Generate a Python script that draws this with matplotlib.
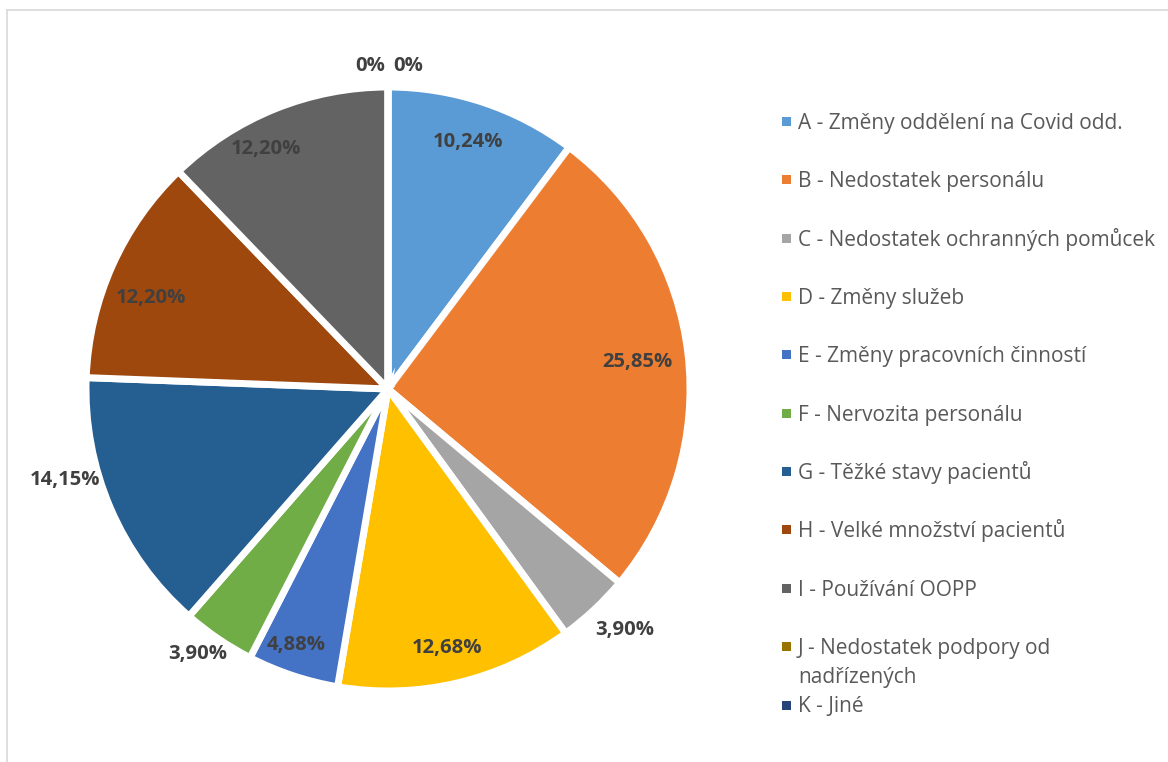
import numpy as np
import matplotlib
matplotlib.use("Agg")
import matplotlib.pyplot as plt
from matplotlib.patches import Rectangle
from matplotlib.lines import Line2D

plt.rcParams['font.family'] = ['Open Sans', 'DejaVu Sans']

categories = [
    "A - Změny oddělení na Covid odd.",
    "B - Nedostatek personálu",
    "C - Nedostatek ochranných pomůcek",
    "D - Změny služeb",
    "E - Změny pracovních činností",
    "F - Nervozita personálu",
    "G - Těžké stavy pacientů",
    "H - Velké množství pacientů",
    "I - Používání OOPP",
    "J - Nedostatek podpory od\nnadřízených",
    "K - Jiné",
]
shares = [10.24, 25.85, 3.90, 12.68, 4.88, 3.90, 14.15, 12.20, 12.20, 0, 0]
colors = ["#5B9BD5", "#ED7D31", "#A5A5A5", "#FFC000", "#4472C4", "#70AD47",
          "#255E91", "#9E480E", "#636363", "#997300", "#264478"]

# where each percentage label sits: radius (in pie radii) and angle nudge (deg)
label_r = [0.86, 0.83, 1.12, 0.88, 0.90, 1.08, 1.11, 0.84, 0.89, 1.07, 1.07]
label_dang = [0.6, -0.4, 1.4, -0.3, -1.4, -1.5, -7.6, 3.2, 5.0, 3.2, -3.6]

W, H = 1168, 762
fig = plt.figure(figsize=(W / 100, H / 100), dpi=100)

# chart area border (runs off the right and bottom edges)
border = "#D9D9D9"
fig.add_artist(Line2D([7 / W, 7 / W], [0, 1 - 10 / H], transform=fig.transFigure,
                      color=border, lw=1.2))
fig.add_artist(Line2D([7 / W, 1], [1 - 10 / H, 1 - 10 / H], transform=fig.transFigure,
                      color=border, lw=1.2))

cx, cy, rad = 388, H - 389, 302
ax = fig.add_axes([(cx - rad) / W, (cy - rad) / H, 2 * rad / W, 2 * rad / H])

wedges, _ = ax.pie(shares, colors=colors, startangle=90, counterclock=False,
                   wedgeprops=dict(edgecolor="white", linewidth=5))
ax.set_xlim(-1, 1)
ax.set_ylim(-1, 1)
ax.set_aspect("equal")
ax.axis("off")

for w, v, r, da in zip(wedges, shares, label_r, label_dang):
    ang = np.deg2rad((w.theta1 + w.theta2) / 2 + da)
    txt = "0%" if v == 0 else f"{v:.2f}".replace(".", ",") + "%"
    ax.text(r * np.cos(ang), r * np.sin(ang), txt, ha="center", va="center",
            fontsize=14.6, fontweight="bold", color="#404040", clip_on=False)

# legend, one slot per category; wrapped labels spill into the gap below
y0, dy, line_h = 121.5, 58.35, 29
for i, (lab, c) in enumerate(zip(categories, colors)):
    y = y0 + i * dy
    fig.add_artist(Rectangle((782 / W, 1 - (y + 4.5) / H), 9 / W, 9 / H,
                             transform=fig.transFigure, facecolor=c, edgecolor="none"))
    for j, line in enumerate(lab.split("\n")):
        fig.text(798 / W, 1 - (y + 7.5 + j * line_h) / H, line, ha="left",
                 va="baseline", fontsize=15, color="#595959")

fig.savefig("out.png", dpi=100)
